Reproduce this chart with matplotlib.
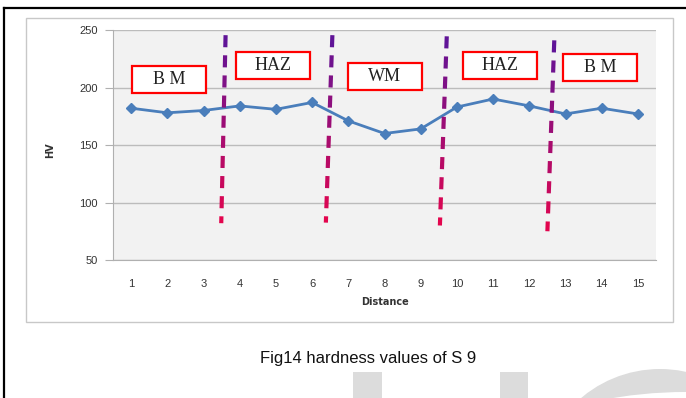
import numpy as np
import matplotlib
matplotlib.use("Agg")
import matplotlib.pyplot as plt
from matplotlib.collections import LineCollection
from matplotlib.patches import Rectangle, Circle
from matplotlib.lines import Line2D

# hardness data
distance = list(range(1, 16))
hv = [182, 178, 180, 184, 181, 187, 171, 160, 164, 183, 190, 184, 177, 182, 177]

# zone boundaries: x at top, x at bottom, y top, y bottom (slightly slanted in original)
bound_x_top = [3.61, 6.56, 9.72, 12.69]
bound_x_bot = [3.49, 6.38, 9.53, 12.50]
bound_y_top = [245.5, 245.5, 244.5, 241.0]
bound_y_bot = [82.0, 82.5, 80.0, 75.0]

# zone labels
zone_names = ["B M", "HAZ", "WM", "HAZ", "B M"]
zone_x = [2.05, 4.91, 8.01, 11.18, 13.95]
zone_y = [207, 219, 210, 219, 217]

W, H = 686, 398
fig = plt.figure(figsize=(W / 100, H / 100), dpi=100)
fig.patch.set_facecolor("white")

# faint watermark shapes at the bottom (drawn first, behind everything)
wm = "#dcdcdc"
wax = fig.add_axes([0, 0, 1, 1], zorder=-1)
wax.set_xlim(0, W)
wax.set_ylim(H, 0)
wax.axis("off")
wax.add_patch(Rectangle((353, 372), 29, 30, color=wm, lw=0))
wax.add_patch(Rectangle((500, 372), 28, 30, color=wm, lw=0))
wax.add_patch(Circle((660, 491), 122, color=wm, lw=0))
wax.add_patch(Circle((686, 839), 447, color="white", lw=0))

# outer frame of chart area
fig.add_artist(Rectangle((26 / W, 1 - 322 / H), 647 / W, 304 / H, transform=fig.transFigure,
                         fill=False, edgecolor="#c8c8c8", lw=1.0))
# black page border (left + top)
fig.add_artist(Line2D([4 / W, 4 / W], [0, 1 - 7.5 / H], transform=fig.transFigure, color="black", lw=1.6))
fig.add_artist(Line2D([4 / W, 1], [1 - 7.5 / H, 1 - 7.5 / H], transform=fig.transFigure, color="black", lw=1.6))

ax = fig.add_axes([113 / W, 1 - 260 / H, 543 / W, 230 / H])
ax.set_facecolor("#f2f2f2")
ax.set_xlim(0.5, 15.5)
ax.set_ylim(50, 250)
ax.set_yticks([50, 100, 150, 200, 250])
ax.set_xticks(distance)
ax.yaxis.grid(True, color="#bcbcbc", lw=1.0)
ax.set_axisbelow(True)
for s in ["top", "right"]:
    ax.spines[s].set_visible(False)
ax.spines["left"].set_color("#b0b0b0")
ax.spines["bottom"].set_color("#b0b0b0")
ax.tick_params(axis="y", length=6, color="#b0b0b0", pad=5, labelsize=8, labelcolor="#333333")
ax.tick_params(axis="x", length=0, pad=14, labelsize=8, labelcolor="#333333")
for lab in ax.get_xticklabels() + ax.get_yticklabels():
    lab.set_family("Liberation Sans")

ax.plot(distance, hv, color="#4a7ebb", lw=2, marker="D", markersize=5, zorder=3)

# gradient dashed boundary lines (purple at top -> red at bottom)
c_top = np.array([0.36, 0.08, 0.60])
c_bot = np.array([0.90, 0.02, 0.30])
dash, gap = 10.5, 7.0  # in HV units
for xt, xb, yt, yb in zip(bound_x_top, bound_x_bot, bound_y_top, bound_y_bot):
    segs, cols = [], []
    y = yt
    while y > yb:
        y2 = max(y - dash, yb)
        f1 = (yt - y) / (yt - yb)
        f2 = (yt - y2) / (yt - yb)
        segs.append([(xt + (xb - xt) * f1, y), (xt + (xb - xt) * f2, y2)])
        cols.append(c_top + (c_bot - c_top) * (f1 + f2) / 2)
        y = y2 - gap
    ax.add_collection(LineCollection(segs, colors=cols, linewidths=3, zorder=4, capstyle="butt"))

# zone label boxes
bw, bh = 74 / 36.2, 27 * 200 / 230
for name, x, y in zip(zone_names, zone_x, zone_y):
    ax.add_patch(Rectangle((x - bw / 2, y - bh / 2), bw, bh, facecolor="white",
                           edgecolor="#ff0000", lw=1.6, zorder=5))
    ax.text(x, y, name, ha="center", va="center", fontsize=13, family="Liberation Serif",
            color="#222222", zorder=6)

fig.text(50 / W, 1 - 150 / H, "HV", rotation=90, ha="center", va="center",
         fontsize=7, fontweight="bold", color="#333333")
fig.text(385 / W, 1 - 302 / H, "Distance", ha="center", va="center",
         fontsize=7, fontweight="bold", color="#333333")
fig.text(368 / W, 1 - 358 / H, "Fig14 hardness values of S 9", ha="center", va="center",
         fontsize=12, family="Liberation Sans", color="#111111")

fig.savefig("out.png", dpi=100)
